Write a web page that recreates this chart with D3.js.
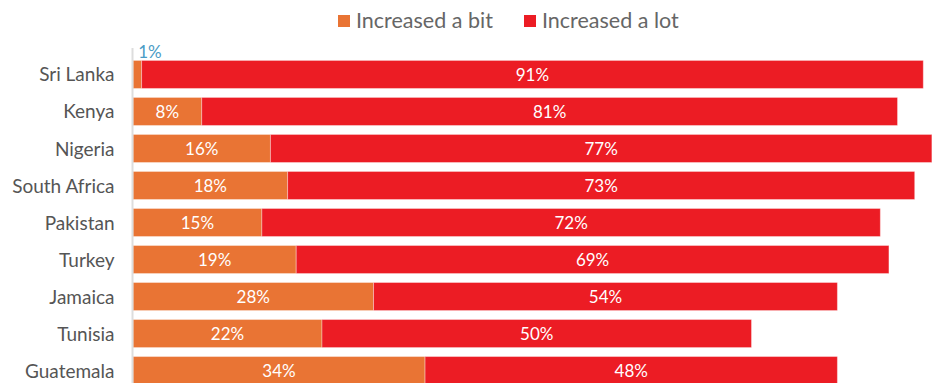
<!DOCTYPE html>
<html>
<head>
<meta charset="utf-8">
<script src="https://cdn.jsdelivr.net/npm/d3@7"></script>
<style>
  html, body { margin: 0; padding: 0; background: #fff; }
  svg { display: block; font-family: Lato, "Open Sans", sans-serif; }
</style>
</head>
<body>
<svg id="chart" width="936" height="383"></svg>
<script>
const countries = ["Sri Lanka", "Kenya", "Nigeria", "South Africa", "Pakistan", "Turkey", "Jamaica", "Tunisia", "Guatemala"];
const increasedBit = [1, 8, 16, 18, 15, 19, 28, 22, 34];
const increasedLot = [91, 81, 77, 73, 72, 69, 54, 50, 48];
const seriesNames = ["Increased a bit", "Increased a lot"];
const seriesColors = ["#E97434", "#EC1C24"];

const svg = d3.select("#chart");
const margin = { left: 133 };

const x = d3.scaleLinear().domain([0, 100]).range([margin.left, margin.left + 859]);
const y = d3.scaleBand().domain(countries).range([56, 56 + 37 * countries.length]).paddingInner(0.243).paddingOuter(0.12);

const rows = countries.map((c, i) => ({ country: c, bit: increasedBit[i], lot: increasedLot[i] }));
const stacked = d3.stack().keys(["bit", "lot"])(rows);

// Bars
const layers = svg.append("g").selectAll("g").data(stacked).join("g")
  .attr("fill", (d, i) => seriesColors[i]);

layers.selectAll("rect").data(d => d).join("rect")
  .attr("x", d => x(d[0]))
  .attr("y", d => y(d.data.country))
  .attr("width", d => x(d[1]) - x(d[0]))
  .attr("height", y.bandwidth())
  .attr("stroke", "#fff")
  .attr("stroke-opacity", 0.35)
  .attr("stroke-width", 1);

// Value labels: inside the segment, or above it when the segment is too narrow
layers.each(function (layer) {
  d3.select(this).selectAll("text").data(layer).join("text")
    .each(function (d) {
      const v = d[1] - d[0];
      const t = d3.select(this).text(v + "%");
      if (x(d[1]) - x(d[0]) < 30) {
        t.attr("x", x(d[0]) + 17)
          .attr("y", y(d.data.country) - 2)
          .attr("fill", "#4A9CC6");
      } else {
        t.attr("x", (x(d[0]) + x(d[1])) / 2)
          .attr("y", y(d.data.country) + y.bandwidth() / 2 + 6.5)
          .attr("fill", "#fff");
      }
    })
    .attr("text-anchor", "middle")
    .attr("font-size", 17);
});

// Category axis
const yAxis = svg.append("g")
  .attr("transform", `translate(${margin.left - 0.5},0)`)
  .call(d3.axisLeft(y).tickSize(0).tickPadding(18));
yAxis.select(".domain").attr("stroke", "#ddd").attr("stroke-width", 2)
  .attr("d", `M0,48V383`);
yAxis.selectAll("text").attr("font-size", 19).attr("fill", "#555")
  .attr("dy", "0.37em")
  .attr("font-family", "Lato, sans-serif");

// Legend
const legendX = [338, 524];
const legend = svg.append("g").selectAll("g").data(seriesNames).join("g")
  .attr("transform", (d, i) => `translate(${legendX[i]},15)`);
legend.append("rect").attr("width", 12).attr("height", 12)
  .attr("fill", (d, i) => seriesColors[i]);
legend.append("text").attr("x", 18).attr("y", 12.5)
  .attr("font-size", 21.5).attr("fill", "#666").text(d => d);
</script>
</body>
</html>
